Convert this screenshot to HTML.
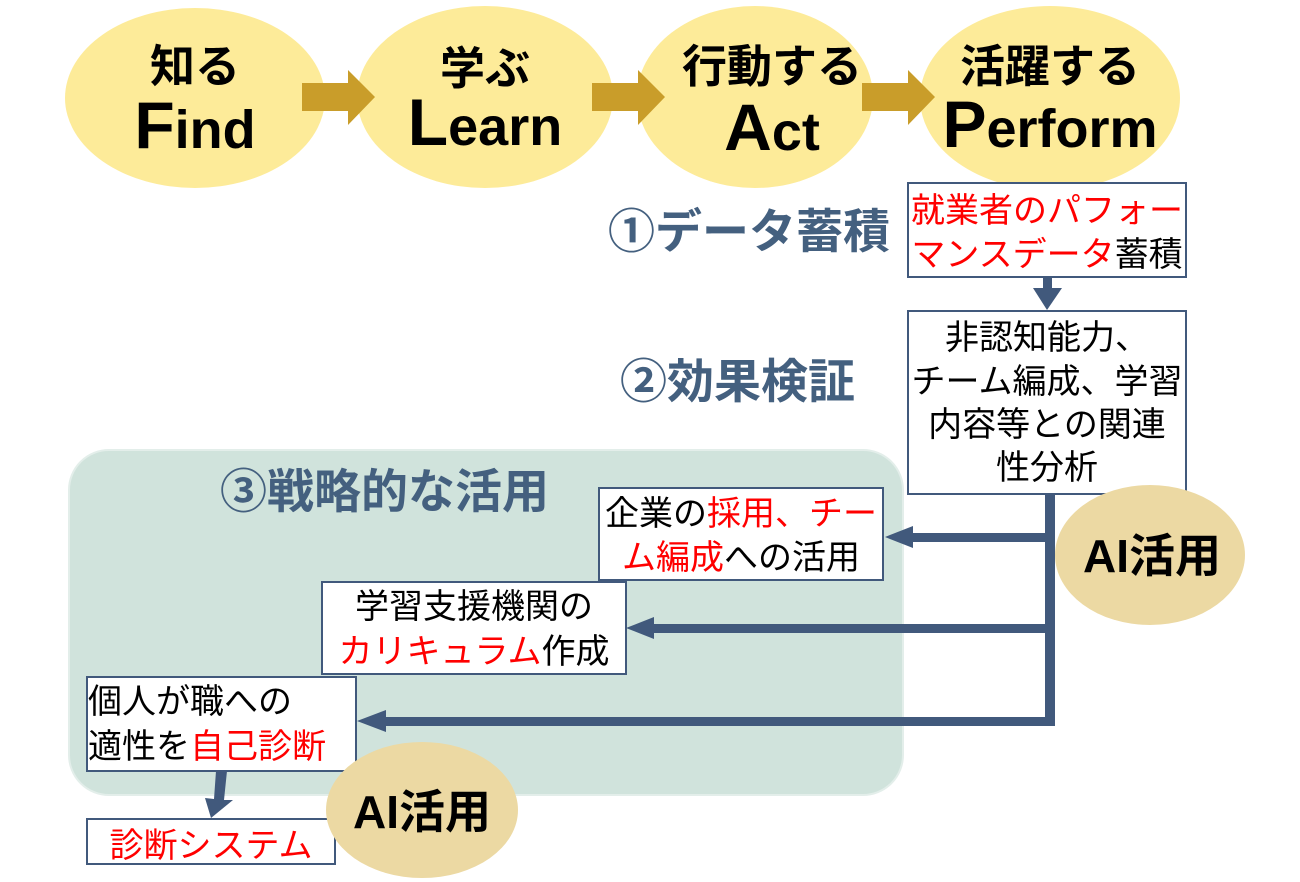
<!DOCTYPE html>
<html><head><meta charset="utf-8"><style>
body{margin:0;background:#fff}
svg{display:block}
text{font-family:"Liberation Sans","Noto Sans CJK JP",sans-serif}
.b{font-weight:bold}
.t{font-size:34px;fill:#000}
.r{fill:#f00}
.h{font-size:47px;font-weight:bold;fill:#44607f}
</style></head><body>
<svg width="1300" height="882" viewBox="0 0 1300 882">
<g fill="#fdeb99">
<ellipse cx="195" cy="98" rx="130" ry="90"/>
<ellipse cx="485" cy="97" rx="128" ry="91"/>
<ellipse cx="755" cy="97" rx="118" ry="91"/>
<ellipse cx="1050" cy="98" rx="130" ry="92"/>
</g>
<g fill="#c99d2a">
<polygon points="302,83 348,83 348,70 375,97 348,125 348,111 302,111"/>
<polygon points="592,83 638,83 638,70 665,97 638,125 638,111 592,111"/>
<polygon points="862,83 908,83 908,70 935,97 908,125 908,111 862,111"/>
</g>
<g class="b" text-anchor="middle" fill="#000">
<text x="195" y="82" font-size="45">知る</text>
<text x="195" y="148" font-size="54"><tspan font-size="66">F</tspan>ind</text>
<text x="485" y="84" font-size="45">学ぶ</text>
<text x="485" y="145" font-size="54"><tspan font-size="66">L</tspan>earn</text>
<text x="772" y="82" font-size="45">行動する</text>
<text x="772" y="150" font-size="54"><tspan font-size="66">A</tspan>ct</text>
<text x="1050" y="82" font-size="45">活躍する</text>
<text x="1050" y="147" font-size="54"><tspan font-size="66">P</tspan>erform</text>
</g>
<rect x="69" y="450" width="834" height="345" rx="40" fill="#d0e3dc" stroke="#e3eeea" stroke-width="2"/>
<text class="h" x="608" y="248">①データ蓄積</text>
<text class="h" x="620" y="398">②効果検証</text>
<text class="h" x="220" y="508" font-size="51">③戦略的な活用</text>
<g fill="#41597c">
<rect x="1043" y="277" width="9" height="12"/>
<polygon points="1033,288 1062,288 1047,310"/>
<rect x="1045" y="494" width="10" height="232"/>
<rect x="910" y="533" width="140" height="9"/>
<polygon points="885,537 913,526 913,548"/>
<rect x="650" y="624" width="400" height="9"/>
<polygon points="626,628 654,617 654,639"/>
<rect x="380" y="717" width="670" height="9"/>
<polygon points="357,721 386,710 386,732"/>
<polygon points="216,771 227,771 224,800 233,800 211,818 205,798 214,799"/>
</g>
<g fill="#fff" stroke="#41597c" stroke-width="2">
<rect x="908" y="183" width="278" height="94"/>
<rect x="908" y="311" width="278" height="183"/>
<rect x="599" y="488" width="284" height="92"/>
<rect x="322" y="582" width="304" height="92"/>
<rect x="87" y="677" width="269" height="94"/>
<rect x="87" y="819" width="248" height="45"/>
</g>
<g class="t" text-anchor="middle">
<text x="1047" y="222"><tspan class="r">就業者のパフォー</tspan></text>
<text x="1047" y="266"><tspan class="r">マンスデータ</tspan>蓄積</text>
<text x="1047" y="349">非認知能力、</text>
<text x="1047" y="393">チーム編成、学習</text>
<text x="1047" y="436">内容等との関連</text>
<text x="1047" y="479">性分析</text>
<text x="741" y="525">企業の<tspan class="r">採用、チー</tspan></text>
<text x="741" y="569"><tspan class="r">ム編成</tspan>への活用</text>
<text x="474" y="618">学習支援機関の</text>
<text x="474" y="663"><tspan class="r">カリキュラム</tspan>作成</text>
<text x="211" y="857" class="r">診断システム</text>
</g>
<g class="t">
<text x="88" y="713">個人が職への</text>
<text x="88" y="758">適性を<tspan class="r">自己診断</tspan></text>
</g>
<g fill="#ecd9a3">
<ellipse cx="1150" cy="555" rx="95" ry="70"/>
<ellipse cx="422" cy="810" rx="96" ry="68"/>
</g>
<g class="b" text-anchor="middle" font-size="46" fill="#000">
<text x="1152" y="572">AI活用</text>
<text x="422" y="828">AI活用</text>
</g>
</svg>
</body></html>
